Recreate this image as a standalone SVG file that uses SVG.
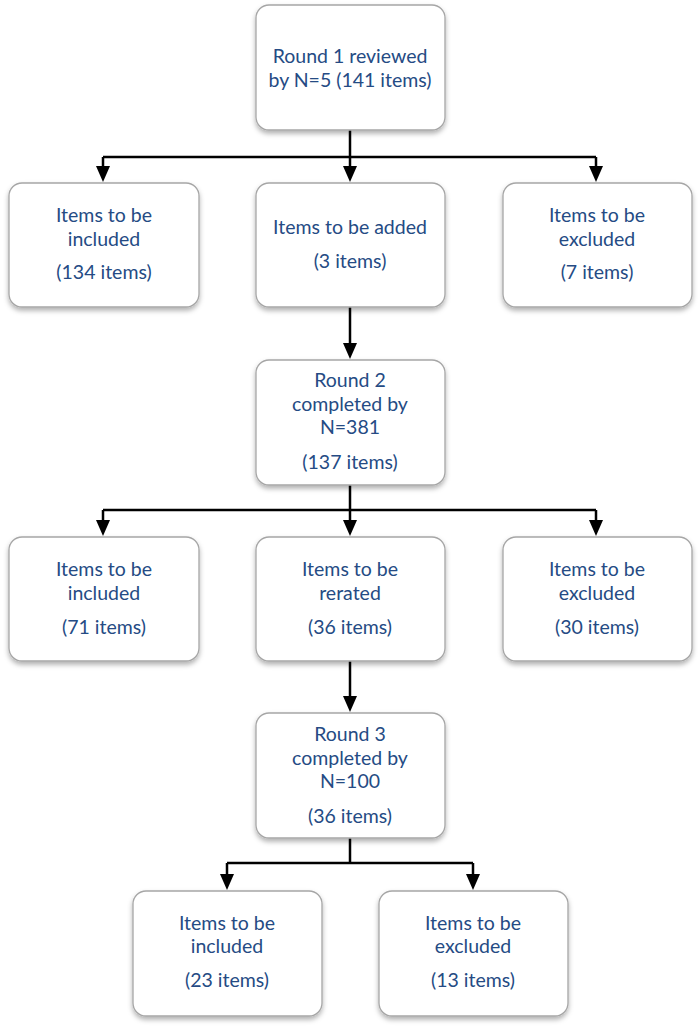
<svg xmlns="http://www.w3.org/2000/svg" width="700" height="1029" viewBox="0 0 700 1029">
<defs>
<filter id="sh" x="-10%" y="-10%" width="120%" height="130%">
<feDropShadow dx="0" dy="3" stdDeviation="2.5" flood-color="#000" flood-opacity="0.3"/>
</filter>
<style>
.box{fill:#fff;stroke:#a6a6a6;stroke-width:1.3;filter:url(#sh)}
.t{font-family:Lato,"Liberation Sans",sans-serif;font-size:19.5px;fill:#254b84;text-anchor:middle}
.c{fill:none;stroke:#000;stroke-width:2.5}
</style>
</defs>
<g id="connectors">
<path class="c" d="M350,130 V157"/>
<path class="c" d="M103,157 H596"/>
<path class="c" d="M103,157 V170"/>
<path class="c" d="M350,157 V170"/>
<path class="c" d="M596,157 V170"/>
<path class="c" d="M350,307 V347"/>
<path class="c" d="M350,485 V510"/>
<path class="c" d="M103,510 H596"/>
<path class="c" d="M103,510 V524"/>
<path class="c" d="M350,510 V524"/>
<path class="c" d="M596,510 V524"/>
<path class="c" d="M350,661 V700"/>
<path class="c" d="M350,838 V863"/>
<path class="c" d="M227,863 H473"/>
<path class="c" d="M227,863 V878"/>
<path class="c" d="M473,863 V878"/>
<g fill="#000">
<path d="M96,166 H110 L103,182 Z"/>
<path d="M343,166 H357 L350,182 Z"/>
<path d="M589,166 H603 L596,182 Z"/>
<path d="M343,343 H357 L350,359 Z"/>
<path d="M96,520 H110 L103,536 Z"/>
<path d="M343,520 H357 L350,536 Z"/>
<path d="M589,520 H603 L596,536 Z"/>
<path d="M343,696 H357 L350,712 Z"/>
<path d="M220,874 H234 L227,890 Z"/>
<path d="M466,874 H480 L473,890 Z"/>
</g>
</g>
<g id="n1"><rect class="box" x="256" y="5" width="189" height="125" rx="13"/>
<text class="t" x="350" y="63">Round 1 reviewed</text><text class="t" x="350" y="87">by N=5 (141 items)</text></g>
<g id="n2"><rect class="box" x="9" y="183" width="190" height="124" rx="13"/>
<text class="t" x="104" y="222">Items to be</text><text class="t" x="104" y="246">included</text><text class="t" x="104" y="279">(134 items)</text></g>
<g id="n3"><rect class="box" x="256" y="183" width="189" height="124" rx="13"/>
<text class="t" x="350" y="234">Items to be added</text><text class="t" x="350" y="268">(3 items)</text></g>
<g id="n4"><rect class="box" x="503" y="183" width="189" height="124" rx="13"/>
<text class="t" x="597" y="222">Items to be</text><text class="t" x="597" y="246">excluded</text><text class="t" x="597" y="279">(7 items)</text></g>
<g id="n5"><rect class="box" x="256" y="360" width="189" height="125" rx="13"/>
<text class="t" x="350" y="387">Round 2</text><text class="t" x="350" y="411">completed by</text><text class="t" x="350" y="434">N=381</text><text class="t" x="350" y="469">(137 items)</text></g>
<g id="n6"><rect class="box" x="9" y="537" width="190" height="124" rx="13"/>
<text class="t" x="104" y="576">Items to be</text><text class="t" x="104" y="600">included</text><text class="t" x="104" y="634">(71 items)</text></g>
<g id="n7"><rect class="box" x="256" y="537" width="189" height="124" rx="13"/>
<text class="t" x="350" y="576">Items to be</text><text class="t" x="350" y="600">rerated</text><text class="t" x="350" y="634">(36 items)</text></g>
<g id="n8"><rect class="box" x="503" y="537" width="189" height="124" rx="13"/>
<text class="t" x="597" y="576">Items to be</text><text class="t" x="597" y="600">excluded</text><text class="t" x="597" y="634">(30 items)</text></g>
<g id="n9"><rect class="box" x="256" y="713" width="189" height="125" rx="13"/>
<text class="t" x="350" y="741">Round 3</text><text class="t" x="350" y="765">completed by</text><text class="t" x="350" y="788">N=100</text><text class="t" x="350" y="823">(36 items)</text></g>
<g id="n10"><rect class="box" x="133" y="891" width="189" height="125" rx="13"/>
<text class="t" x="227" y="930">Items to be</text><text class="t" x="227" y="953">included</text><text class="t" x="227" y="987">(23 items)</text></g>
<g id="n11"><rect class="box" x="379" y="891" width="189" height="125" rx="13"/>
<text class="t" x="473" y="930">Items to be</text><text class="t" x="473" y="953">excluded</text><text class="t" x="473" y="987">(13 items)</text></g>
</svg>
